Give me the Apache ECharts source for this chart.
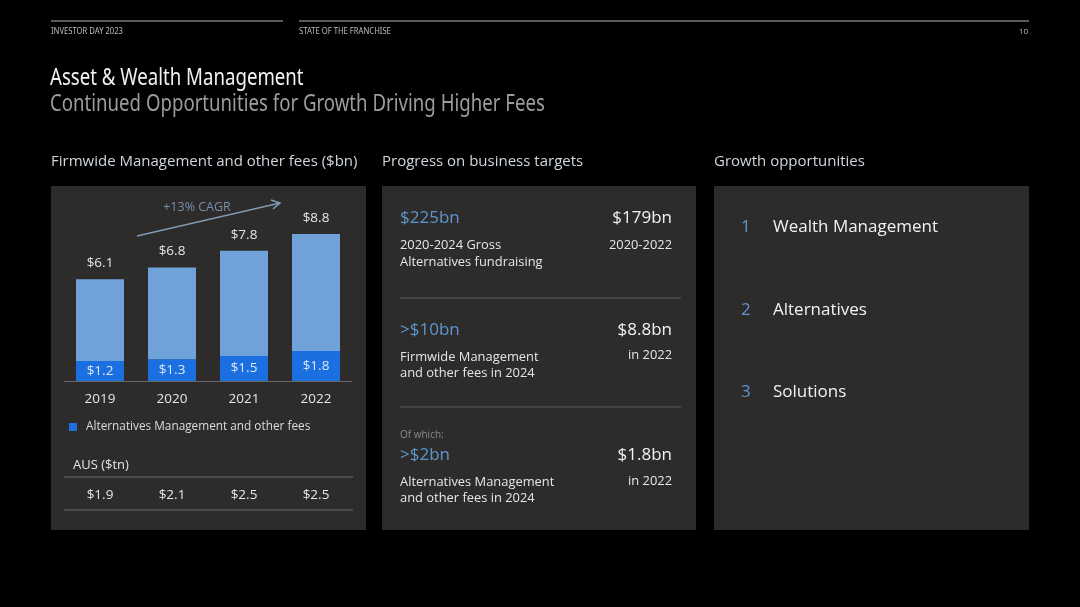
<!DOCTYPE html>
<html>
<head>
<meta charset="utf-8">
<title>Asset & Wealth Management</title>
<script src="https://cdn.jsdelivr.net/npm/echarts@6/dist/echarts.min.js"></script>
<style>
  html, body { margin: 0; padding: 0; background: #000; }
  #chart { width: 1080px; height: 607px; }
</style>
</head>
<body>
<div id="chart"></div>
<script>
// chart data
const years = ['2019', '2020', '2021', '2022'];
const totalFees = [6.1, 6.8, 7.8, 8.8];
const altFees = [1.2, 1.3, 1.5, 1.8];
const ausValues = ['$1.9', '$2.1', '$2.5', '$2.5'];

// rest of the fees sits on top of the alternatives part
const otherFees = totalFees.map((t, i) => +(t - altFees[i]).toFixed(1));

const BODY = '"Open Sans", "Noto Sans", sans-serif';
const TITLE = '"Noto Sans", "Open Sans", sans-serif';
const PANEL = '#2d2c2b';
const ACCENT = '#5f95cf';

const chart = echarts.init(document.getElementById('chart'));

// small helper for text graphics
function txt(x, y, text, size, color, opts) {
    return {
        type: 'text',
        z: 10,
        style: Object.assign({
            x: x, y: y + 1, text: text,
            fontSize: size, fontFamily: BODY,
            fill: color, verticalAlign: 'middle', align: 'left'
        }, opts || {})
    };
}
// condensed text: squeeze horizontally around its left edge
function narrow(x, y, text, size, color, sx) {
    return {
        type: 'text',
        z: 10,
        x: x, y: y, scaleX: sx,
        style: {
            x: 0, y: 0, text: text,
            fontSize: size, fontFamily: TITLE,
            fill: color, verticalAlign: 'middle', align: 'left'
        }
    };
}
function hline(x1, x2, y, color) {
    return { type: 'line', z: 5, shape: { x1: x1, y1: y, x2: x2, y2: y }, style: { stroke: color, lineWidth: 1 } };
}
function panel(x, y, w, h) {
    return { type: 'rect', z: 0, shape: { x: x, y: y, width: w, height: h }, style: { fill: PANEL } };
}

const graphics = [
    // header
    hline(51, 283, 21, '#b8b8b8'),
    hline(299, 1029, 21, '#b8b8b8'),
    narrow(51, 32, 'INVESTOR DAY 2023', 8.5, '#bdbdbd', 0.9),
    narrow(299, 32, 'STATE OF THE FRANCHISE', 8.5, '#bdbdbd', 0.9),
    txt(1028, 31, '10', 8, '#bdbdbd', { align: 'right' }),
    narrow(50, 78, 'Asset & Wealth Management', 23, '#f2f2f2', 0.81),
    narrow(50, 104, 'Continued Opportunities for Growth Driving Higher Fees', 23, '#9c9c9c', 0.81),

    // section headings
    txt(51, 161, 'Firmwide Management and other fees ($bn)', 15, '#cfd6de'),
    txt(382, 161, 'Progress on business targets', 15, '#cfd6de'),
    txt(714, 161, 'Growth opportunities', 15, '#cfd6de'),

    // panels
    panel(51, 186, 315, 344),
    panel(382, 186, 314, 344),
    panel(714, 186, 315, 344),

    // CAGR arrow
    { type: 'line', z: 10, shape: { x1: 137, y1: 236, x2: 280, y2: 203 }, style: { stroke: '#7f9ab5', lineWidth: 1.5 } },
    { type: 'polyline', z: 10, shape: { points: [[271, 200], [280, 203], [273, 209]] }, style: { stroke: '#7f9ab5', lineWidth: 1.5, fill: null } },
    txt(197, 206, '+13% CAGR', 12.5, '#7690ab', { align: 'center' }),

    // legend
    { type: 'rect', z: 10, shape: { x: 69, y: 423, width: 8, height: 8 }, style: { fill: '#1b6fe0' } },
    txt(86, 426, 'Alternatives Management and other fees', 11.8, '#dcdcdc'),

    // AUS table
    txt(73, 464, 'AUS ($tn)', 13, '#e6e6e6'),
    hline(64, 353, 477, '#6a6a6a'),
    hline(64, 353, 510, '#6a6a6a'),

    // progress on business targets
    txt(400, 217, '$225bn', 17, ACCENT),
    txt(672, 217, '$179bn', 17, '#f2f2f2', { align: 'right' }),
    txt(400, 244, '2020-2024 Gross', 12.9, '#e6e6e6'),
    txt(400, 261, 'Alternatives fundraising', 12.9, '#e6e6e6'),
    txt(672, 244, '2020-2022', 12.9, '#e6e6e6', { align: 'right' }),
    hline(400, 681, 298, '#5a5a5a'),

    txt(400, 329, '>$10bn', 17, ACCENT),
    txt(672, 329, '$8.8bn', 17, '#f2f2f2', { align: 'right' }),
    txt(400, 356, 'Firmwide Management', 12.9, '#e6e6e6'),
    txt(400, 372, 'and other fees in 2024', 12.9, '#e6e6e6'),
    txt(672, 354, 'in 2022', 12.9, '#e6e6e6', { align: 'right' }),
    hline(400, 681, 407, '#5a5a5a'),

    txt(400, 434, 'Of which:', 10, '#8a8a8a'),
    txt(400, 454, '>$2bn', 17, ACCENT),
    txt(672, 454, '$1.8bn', 17, '#f2f2f2', { align: 'right' }),
    txt(400, 481, 'Alternatives Management', 12.9, '#e6e6e6'),
    txt(400, 497, 'and other fees in 2024', 12.9, '#e6e6e6'),
    txt(672, 480, 'in 2022', 12.9, '#e6e6e6', { align: 'right' }),

    // growth opportunities
    txt(741, 226, '1', 17, ACCENT),
    txt(773, 226, 'Wealth Management', 17, '#f2f2f2'),
    txt(741, 309, '2', 17, ACCENT),
    txt(773, 309, 'Alternatives', 17, '#f2f2f2'),
    txt(741, 391, '3', 17, ACCENT),
    txt(773, 391, 'Solutions', 17, '#f2f2f2')
];

const option = {
    backgroundColor: '#000',
    animation: false,
    textStyle: { fontFamily: BODY },
    grid: { left: 64, width: 288, top: 214, height: 167 },
    xAxis: [
        {
            type: 'category',
            data: years,
            axisLine: { lineStyle: { color: '#6a6a6a' } },
            axisTick: { show: false },
            axisLabel: { color: '#e6e6e6', fontSize: 13.5, margin: 11 }
        },
        {
            // AUS row under the chart, one value per year
            type: 'category',
            position: 'bottom',
            offset: 107,
            data: ausValues,
            axisLine: { show: false },
            axisTick: { show: false },
            axisLabel: { color: '#e6e6e6', fontSize: 13.5, margin: 0 }
        }
    ],
    yAxis: {
        type: 'value',
        min: 0,
        max: 10,
        show: false,
        splitLine: { show: false }
    },
    series: [
        {
            name: 'Alternatives Management and other fees',
            type: 'bar',
            stack: 'fees',
            data: altFees,
            barWidth: 48,
            itemStyle: { color: '#1b6fe0' },
            label: {
                show: true,
                position: 'inside',
                color: '#dde9f7',
                fontSize: 13.5,
                formatter: p => '$' + p.value.toFixed(1)
            }
        },
        {
            name: 'Other fees',
            type: 'bar',
            stack: 'fees',
            data: otherFees,
            barWidth: 48,
            itemStyle: { color: '#6ea2d8' },
            label: {
                show: true,
                position: 'top',
                distance: 9,
                color: '#e6e6e6',
                fontSize: 13.5,
                formatter: p => '$' + totalFees[p.dataIndex].toFixed(1)
            }
        }
    ],
    graphic: graphics
};

chart.setOption(option);
window.addEventListener('resize', chart.resize);
</script>
</body>
</html>
